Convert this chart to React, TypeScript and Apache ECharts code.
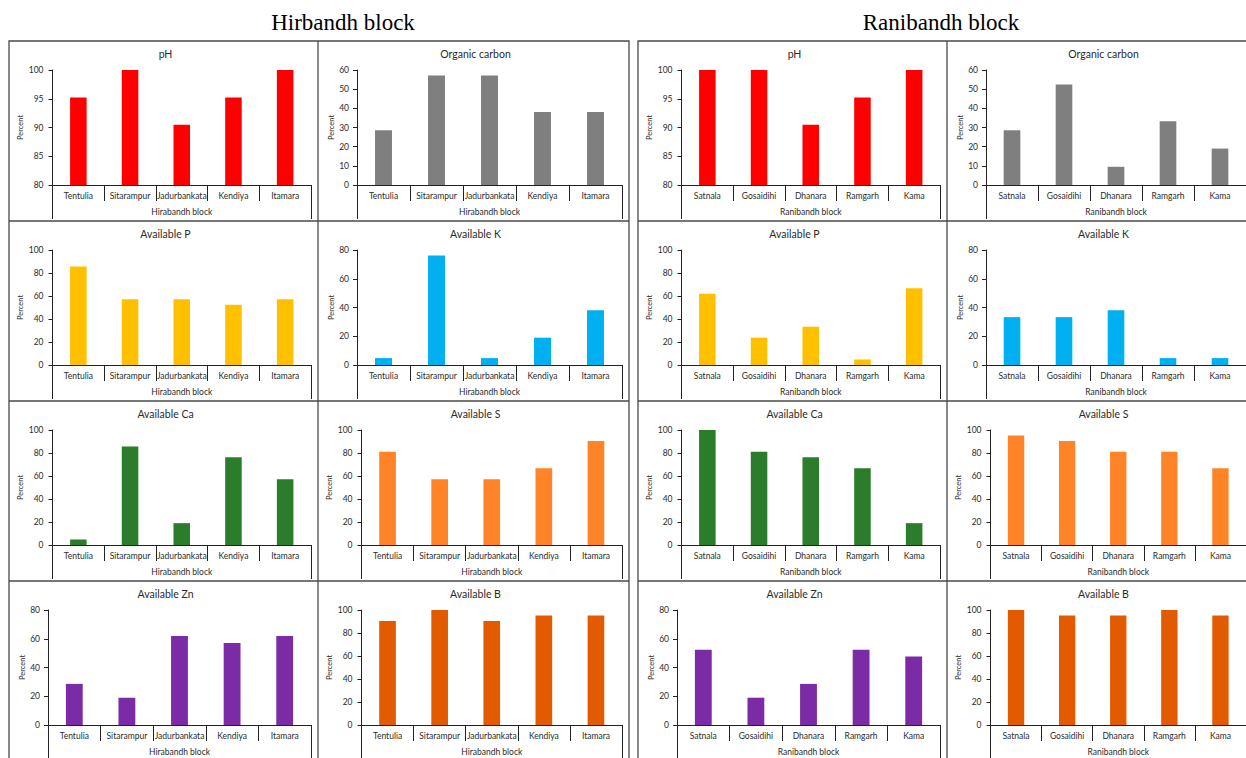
import React, { useEffect, useRef } from "react";
import * as echarts from "echarts";

// ---------- data ----------
const hirCategories = ["Tentulia", "Sitarampur", "Jadurbankata", "Kendiya", "Itamara"];
const raniCategories = ["Satnala", "Gosaidihi", "Dhanara", "Ramgarh", "Kama"];

const hirPH = [95.2, 100, 90.5, 95.2, 100];
const hirOC = [28.6, 57.1, 57.1, 38.1, 38.1];
const hirP = [85.7, 57.1, 57.1, 52.4, 57.1];
const hirK = [4.8, 76.2, 4.8, 19.0, 38.1];
const hirCa = [4.8, 85.7, 19.0, 76.2, 57.1];
const hirS = [81.0, 57.1, 57.1, 66.7, 90.5];
const hirZn = [28.6, 19.0, 61.9, 57.1, 61.9];
const hirB = [90.5, 100, 90.5, 95.2, 95.2];

const raniPH = [100, 100, 90.5, 95.2, 100];
const raniOC = [28.6, 52.4, 9.5, 33.3, 19.0];
const raniP = [61.9, 23.8, 33.3, 4.8, 66.7];
const raniK = [33.3, 33.3, 38.1, 4.8, 4.8];
const raniCa = [100, 81.0, 76.2, 66.7, 19.0];
const raniS = [95.2, 90.5, 81.0, 81.0, 66.7];
const raniZn = [52.4, 19.0, 28.6, 52.4, 47.6];
const raniB = [100, 95.2, 95.2, 100, 95.2];

const paramTitles = ["pH", "Organic carbon", "Available P", "Available K", "Available Ca", "Available S", "Available Zn", "Available B"];
const yMins = [80, 0, 0, 0, 0, 0, 0, 0];
const yMaxs = [100, 60, 100, 80, 100, 100, 80, 100];
const yIntervals = [5, 10, 20, 20, 20, 20, 20, 20];
const paramColors = ["#FF0000", "#7F7F7F", "#FFC000", "#00B0F0", "#2B7D2B", "#FF8427", "#7A2BA5", "#E35B00"];

const hirValues = [hirPH, hirOC, hirP, hirK, hirCa, hirS, hirZn, hirB];
const raniValues = [raniPH, raniOC, raniP, raniK, raniCa, raniS, raniZn, raniB];

const blockHeaders = ["Hirbandh block", "Ranibandh block"];
const blockAxisNames = ["Hirabandh block", "Ranibandh block"];

// ---------- layout ----------
const FONT = "Lato, 'Open Sans', sans-serif";
const TXT = "#2b2b2b";
const colX = [9, 318, 638, 947];
const colW = [309, 311, 309, 309];
const rowY = [41, 221, 401, 581];

function buildOption() {
  const grid: any[] = [];
  const xAxis: any[] = [];
  const yAxis: any[] = [];
  const series: any[] = [];
  const title: any[] = [];
  let gi = 0;
  for (let r = 0; r < 4; r++) {
    for (let c = 0; c < 4; c++) {
      const block = c < 2 ? 0 : 1;
      const p = r * 2 + (c % 2);
      const cats = block === 0 ? hirCategories : raniCategories;
      const vals = block === 0 ? hirValues[p] : raniValues[p];
      const px = colX[c];
      const py = rowY[r];
      const pw = colW[c];
      const left = yMaxs[p] >= 100 ? 43.5 : 39;
      grid.push({ left: px + left, top: py + 29, width: pw - left - 7, height: 115 });
      title.push({
        text: paramTitles[p],
        left: px + pw / 2 + 2,
        top: py + 7.5,
        textAlign: "center",
        padding: 0,
        textStyle: { fontSize: 10.5, fontWeight: "normal", color: TXT, fontFamily: FONT },
      });
      xAxis.push({
        type: "category",
        gridIndex: gi,
        data: cats,
        position: "bottom",
        axisLine: { show: true, lineStyle: { color: "#222", width: 1 } },
        axisTick: { show: true, length: 16, interval: 0, lineStyle: { color: "#222", width: 1 } },
        axisLabel: { interval: 0, fontSize: 8.5, margin: 6.5, color: TXT, fontFamily: FONT },
        name: blockAxisNames[block],
        nameLocation: "middle",
        nameGap: 22.5,
        nameTextStyle: { fontSize: 8.5, color: TXT, fontFamily: FONT },
        splitLine: { show: false },
      });
      xAxis.push({
        type: "value",
        gridIndex: gi,
        min: 0,
        max: 1,
        interval: 1,
        position: "bottom",
        axisLine: { show: false },
        axisTick: { show: true, length: 34, lineStyle: { color: "#222", width: 1 } },
        axisLabel: { show: false },
        splitLine: { show: false },
      });
      yAxis.push({
        type: "value",
        gridIndex: gi,
        min: yMins[p],
        max: yMaxs[p],
        interval: yIntervals[p],
        axisLine: { show: true, lineStyle: { color: "#222", width: 1 } },
        axisTick: { show: true, length: 4, lineStyle: { color: "#222" } },
        axisLabel: { fontSize: 8.5, margin: yMaxs[p] >= 100 ? 9 : 8, color: TXT, fontFamily: FONT },
        splitLine: { show: false },
        name: "Percent",
        nameLocation: "middle",
        nameRotate: 90,
        nameGap: left - 18,
        nameTextStyle: { fontSize: 7.5, color: TXT, fontFamily: FONT },
      });
      series.push({
        type: "bar",
        xAxisIndex: gi * 2,
        yAxisIndex: gi,
        data: vals,
        barWidth: "32%",
        itemStyle: { color: paramColors[p] },
      });
      gi++;
    }
  }

  const lineStyle = { stroke: "#4a4a4a", lineWidth: 1.3 };
  const graphic: any[] = [];
  [[9, 629], [638, 1258]].forEach(([x1, x2]) => {
    graphic.push({ type: "rect", shape: { x: x1, y: 41, width: x2 - x1, height: 730 }, style: { fill: "none", ...lineStyle }, silent: true });
    rowY.slice(1).forEach((y) => {
      graphic.push({ type: "line", shape: { x1, y1: y, x2, y2: y }, style: lineStyle, silent: true });
    });
  });
  [318, 947].forEach((x) => {
    graphic.push({ type: "line", shape: { x1: x, y1: 41, x2: x, y2: 771 }, style: lineStyle, silent: true });
  });
  graphic.push({
    type: "text",
    x: 343,
    y: 22,
    style: { text: blockHeaders[0], font: "23px 'Liberation Serif', 'Times New Roman', serif", fill: "#000", textAlign: "center", textVerticalAlign: "middle" },
  });
  graphic.push({
    type: "text",
    x: 941,
    y: 22,
    style: { text: blockHeaders[1], font: "23px 'Liberation Serif', 'Times New Roman', serif", fill: "#000", textAlign: "center", textVerticalAlign: "middle" },
  });

  return {
    animation: false,
    backgroundColor: "#fff",
    title,
    grid,
    xAxis,
    yAxis,
    series,
    graphic,
  };
}

export default function App() {
  const ref = useRef<HTMLDivElement>(null);
  useEffect(() => {
    if (!ref.current) return;
    const chart = echarts.init(ref.current, undefined, { renderer: "svg" });
    chart.setOption(buildOption() as any);
    return () => chart.dispose();
  }, []);
  return (
    <div
      ref={ref}
      style={{ position: "fixed", left: 0, top: 0, width: 1246, height: 758, background: "#fff" }}
    />
  );
}
